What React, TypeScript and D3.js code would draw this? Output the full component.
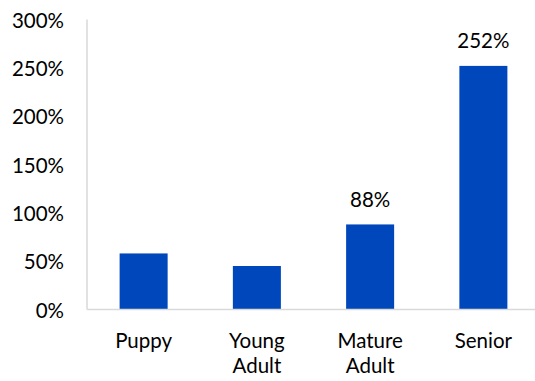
import React from "react";
import * as d3 from "d3";

// Life stage categories and their percentage values
const categories: string[] = ["Puppy", "Young Adult", "Mature Adult", "Senior"];
const values: number[] = [58, 45, 88, 252];
// Only these bars carry a value label
const labelled: boolean[] = [false, false, true, true];
const yTicks: number[] = [0, 50, 100, 150, 200, 250, 300];

const W = 535;
const H = 381;
const FONT = "Lato, 'Open Sans', sans-serif";
const FS = 20.5;
const LINE = 24.6;
const BAR = "#0047BB";
const AXIS = "#D9D9D9";
const TEXT = "#000000";

export default function App() {
  const x = d3
    .scaleBand<string>()
    .domain(categories)
    .range([87, 540])
    .paddingInner(0.576)
    .paddingOuter(0.288);
  const y = d3.scaleLinear().domain([0, 300]).range([309.5, 19.5]);
  const fmt = (v: number) => `${v}%`;

  return (
    <svg
      width={W}
      height={H}
      style={{ position: "fixed", left: 0, top: 0, background: "#fff" }}
      fontFamily={FONT}
    >
      <rect width={W} height={H} fill="#fff" />
      {/* value axis labels */}
      {yTicks.map((t) => (
        <text
          key={t}
          x={64}
          y={y(t)}
          textAnchor="end"
          dominantBaseline="central"
          fontSize={FS}
          fill={TEXT}
        >
          {fmt(t)}
        </text>
      ))}
      {/* bars */}
      {categories.map((c, i) => (
        <rect
          key={c}
          x={x(c)}
          y={y(values[i])}
          width={x.bandwidth()}
          height={y(0) - y(values[i])}
          fill={BAR}
        />
      ))}
      {/* axis lines */}
      <line x1={87} x2={87} y1={y(300)} y2={y(0)} stroke={AXIS} strokeWidth={1.5} />
      <line x1={87} x2={W} y1={y(0)} y2={y(0)} stroke={AXIS} strokeWidth={1.5} />
      {/* value labels */}
      {categories.map((c, i) =>
        labelled[i] ? (
          <text
            key={c}
            x={(x(c) as number) + x.bandwidth() / 2}
            y={y(values[i]) - 25.5}
            textAnchor="middle"
            dominantBaseline="central"
            fontSize={FS}
            fill={TEXT}
          >
            {fmt(values[i])}
          </text>
        ) : null
      )}
      {/* category labels, wrapped per word */}
      {categories.map((c) => {
        const words = c.split(" ");
        const cx = (x(c) as number) + x.bandwidth() / 2;
        return (
          <text key={c} x={cx} y={348} textAnchor="middle" fontSize={FS} fill={TEXT}>
            {words.map((w, j) => (
              <tspan key={j} x={cx} dy={j === 0 ? 0 : LINE}>
                {w}
              </tspan>
            ))}
          </text>
        );
      })}
    </svg>
  );
}
